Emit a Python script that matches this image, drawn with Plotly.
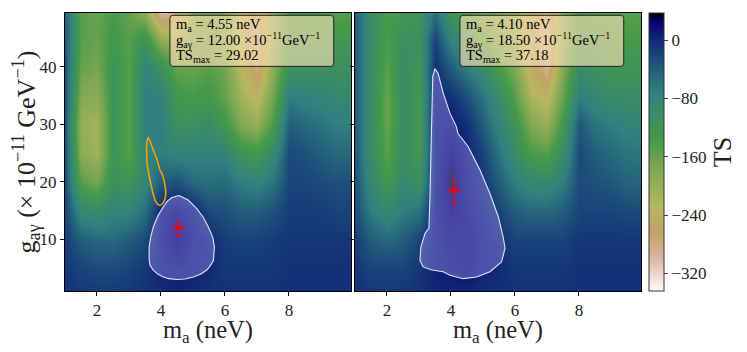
import plotly.graph_objects as go

# grille : m_a (neV) et g_ag (1e-11 GeV^-1)
m_grid = [1.0, 1.5, 2.0, 2.5, 3.0, 3.5, 4.0, 4.5, 5.0, 5.5,
          6.0, 6.5, 7.0, 7.5, 8.0, 8.5, 9.0, 9.5, 10.0]
g_grid = [0, 5, 10, 15, 20, 25, 30, 35, 40, 45, 50]

# TS, une liste par colonne m_a (de g=0 vers g=50)
ts_left_cols = [
    [-5, -10, -15, -20, -25, -30, -30, -30, -30, -35, -40],
    [-10, -20, -40, -90, -150, -190, -200, -180, -160, -150, -150],
    [-10, -25, -50, -100, -170, -210, -210, -190, -170, -160, -160],
    [-10, -25, -50, -80, -110, -120, -120, -120, -120, -130, -140],
    [-10, -20, -40, -80, -120, -150, -150, -150, -150, -150, -160],
    [-5, -10, -25, -55, -80, -80, -70, -70, -80, -120, -200],
    [-5, 5, 8, 3, -40, -70, -70, -80, -110, -200, -310],
    [0, 10, 29, 14, -30, -80, -110, -130, -160, -210, -280],
    [-5, 5, 8, 0, -50, -80, -110, -140, -160, -170, -180],
    [-5, 0, 0, -25, -55, -75, -100, -130, -150, -160, -170],
    [-5, -10, -15, -30, -50, -80, -130, -160, -170, -180, -180],
    [-5, -10, -20, -40, -70, -120, -180, -210, -230, -240, -230],
    [-5, -10, -20, -40, -80, -130, -200, -240, -280, -290, -270],
    [-5, -10, -15, -30, -60, -90, -140, -170, -190, -200, -190],
    [-5, -5, -10, -15, -20, -25, -40, -70, -110, -130, -140],
    [-5, -5, -10, -15, -20, -30, -50, -80, -110, -130, -140],
    [-5, -5, -10, -15, -25, -40, -60, -80, -110, -130, -140],
    [-5, -5, -10, -20, -30, -50, -70, -90, -110, -130, -150],
    [-5, -5, -10, -20, -30, -50, -70, -90, -110, -130, -150],
]
ts_right_cols = [
    [-5, -10, -15, -25, -30, -35, -40, -40, -40, -40, -40],
    [-10, -20, -40, -70, -90, -100, -100, -100, -100, -100, -100],
    [-10, -20, -50, -90, -130, -150, -160, -160, -150, -140, -140],
    [-10, -20, -40, -70, -90, -100, -100, -100, -100, -110, -130],
    [-5, -10, -20, -60, -110, -130, -130, -130, -120, -110, -120],
    [0, 5, 5, 5, 5, 5, 5, 0, -5, -20, -60],
    [0, 10, 15, 26, 37, 24, 8, -5, -40, -80, -120],
    [0, 15, 20, 12, 8, 4, -5, -30, -70, -110, -150],
    [-5, 5, 5, 0, -10, -20, -40, -60, -100, -140, -170],
    [-5, 0, -5, -20, -40, -60, -80, -100, -140, -170, -190],
    [-5, -10, -20, -40, -70, -100, -120, -150, -180, -190, -200],
    [-5, -10, -20, -50, -90, -140, -180, -220, -250, -260, -250],
    [-5, -10, -20, -50, -90, -150, -200, -240, -290, -300, -280],
    [-5, -10, -20, -40, -70, -100, -130, -160, -180, -190, -190],
    [-5, -5, -10, -20, -25, -25, -35, -70, -100, -120, -140],
    [-5, -5, -10, -20, -30, -40, -60, -90, -110, -130, -150],
    [-5, -5, -10, -20, -35, -50, -70, -100, -120, -140, -150],
    [-5, -5, -10, -25, -45, -60, -80, -100, -120, -140, -150],
    [-5, -5, -10, -25, -45, -60, -80, -100, -120, -140, -150],
]

# contours
cl_left_x = [4.56, 4.85, 5.12, 5.32, 5.48, 5.62, 5.67, 5.64, 5.55, 5.43, 5.25, 5.01, 4.75, 4.49,
             4.25, 4.07, 3.9, 3.76, 3.66, 3.63, 3.63, 3.68, 3.76, 3.9, 4.07, 4.2, 4.33, 4.56]
cl_left_y = [17.6, 16.8, 15.3, 13.8, 12.1, 10.3, 8.6, 6.3, 5.4, 4.6, 3.9, 3.4, 3.05, 2.95,
             3.1, 3.4, 3.9, 4.6, 5.4, 6.3, 8.6, 10.4, 12.1, 14.0, 15.6, 16.6, 17.2, 17.6]
orange_x = [3.60, 3.66, 3.76, 3.88, 3.97, 4.04, 4.12, 4.15, 4.12, 4.05, 3.95, 3.85, 3.78,
            3.65, 3.57, 3.55, 3.57, 3.60]
orange_y = [27.7, 27.0, 25.5, 23.8, 22.0, 21.3, 19.5, 18.2, 16.9, 16.2, 15.9, 16.4, 17.4,
            20.5, 23.0, 26.0, 27.2, 27.7]
cl_right_x = [3.50, 3.60, 3.76, 3.97, 4.17, 4.22, 4.54, 4.91, 5.22, 5.48, 5.63, 5.69, 5.58, 5.22,
              4.80, 4.38, 3.97, 3.76, 3.40, 3.13, 3.03, 3.06, 3.19, 3.31, 3.34, 3.37, 3.40, 3.43, 3.50]
cl_right_y = [39.7, 38.8, 35.4, 31.9, 29.6, 28.4, 26.1, 22.0, 17.9, 13.9, 10.4, 8.4, 6.0, 4.3,
              3.4, 3.1, 3.7, 4.3, 4.6, 5.15, 6.3, 8.6, 11.0, 11.9, 16.8, 25.5, 34.2, 38.3, 39.7]

best_m = [4.55, 4.10]
best_g = [12.00, 18.50]
ts_max = [29.02, 37.18]
err_m = [0.14, 0.15]
err_g_up = [1.0, 1.6]
err_g_down = [1.5, 2.3]

# gist_earth_r
cscale = [
    [0.0, "rgb(253,251,251)"], [0.1059, "rgb(223,188,170)"], [0.1333, "rgb(215,178,152)"],
    [0.2118, "rgb(193,163,103)"], [0.302, "rgb(183,183,94)"], [0.451, "rgb(120,166,82)"],
    [0.5412, "rgb(69,154,73)"], [0.63, "rgb(59,141,100)"], [0.7176, "rgb(48,128,128)"],
    [0.7882, "rgb(36,98,124)"], [0.8902, "rgb(19,48,120)"], [0.9725, "rgb(5,0,110)"],
    [1.0, "rgb(0,0,0)"],
]

FONT = "Liberation Serif"
W, H = 731, 336   # la page ajoute 8 px de marge autour

fig = go.Figure()

# boite de texte (coins arrondis), en unites des axes
bx0, bx1, by0, by1 = 4.28, 9.40, 40.1, 49.0
rx, ry = 0.1, 0.55
box_path = ("M %g,%g L %g,%g Q %g,%g %g,%g L %g,%g Q %g,%g %g,%g L %g,%g Q %g,%g %g,%g "
            "L %g,%g Q %g,%g %g,%g Z" % (
                bx0 + rx, by0, bx1 - rx, by0, bx1, by0, bx1, by0 + ry,
                bx1, by1 - ry, bx1, by1, bx1 - rx, by1,
                bx0 + rx, by1, bx0, by1, bx0, by1 - ry,
                bx0, by0 + ry, bx0, by0, bx0 + rx, by0))
line_y = [47.3, 44.7, 41.95]

xdom = [[57 / W, 343 / W], [347 / W, 633 / W]]
ydom = [53 / H, 331 / H]

panels = [
    (ts_left_cols, cl_left_x, cl_left_y, "x", "y"),
    (ts_right_cols, cl_right_x, cl_right_y, "x2", "y2"),
]
for i, (cols, cx, cy, xa, ya) in enumerate(panels):
    z = [list(r) for r in zip(*cols)]
    fig.add_trace(go.Heatmap(x=m_grid, y=g_grid, z=z, coloraxis="coloraxis",
                             zsmooth="best", xaxis=xa, yaxis=ya))
    fig.add_trace(go.Scatter(x=cx, y=cy, mode="lines", fill="toself",
                             fillcolor="rgba(160,150,240,0.42)",
                             line=dict(color="rgba(235,235,255,0.95)", width=1.1),
                             xaxis=xa, yaxis=ya, showlegend=False))
    if i == 0:
        fig.add_trace(go.Scatter(x=orange_x, y=orange_y, mode="lines",
                                 line=dict(color="#f5a000", width=1.6, shape="spline"),
                                 xaxis=xa, yaxis=ya, showlegend=False))
    fig.add_trace(go.Scatter(
        x=[best_m[i]], y=[best_g[i]], mode="markers",
        marker=dict(symbol="circle-open", size=4, color="red", line=dict(width=1.2)),
        error_x=dict(type="data", array=[err_m[i]], color="red", thickness=1.3, width=2.5),
        error_y=dict(type="data", array=[err_g_up[i]], arrayminus=[err_g_down[i]],
                     color="red", thickness=1.3, width=2.5),
        xaxis=xa, yaxis=ya, showlegend=False))

    fig.add_shape(type="path", path=box_path, xref=xa, yref=ya,
                  fillcolor="rgba(245,222,179,0.65)", line=dict(color="#222", width=1))
    lines = ["m<sub>a</sub> = %.2f neV" % best_m[i],
             "g<sub>aγ</sub> = %.2f ×10<sup>−11</sup>GeV<sup>−1</sup>" % best_g[i],
             "TS<sub>max</sub> = %.2f" % ts_max[i]]
    for t, ly in zip(lines, line_y):
        fig.add_annotation(x=4.42, y=ly, xref=xa, yref=ya, xanchor="left", yanchor="middle",
                           text=t, showarrow=False,
                           font=dict(family=FONT, size=14.5, color="black"))

    # titre de l'axe x
    fig.add_annotation(x=(xdom[i][0] + xdom[i][1]) / 2, y=13 / H, xref="paper", yref="paper",
                       xanchor="center", yanchor="middle", showarrow=False,
                       text="m<sub>a</sub> (neV)",
                       font=dict(family=FONT, size=24.5, color="#222"))

ax = dict(showline=True, mirror=True, linecolor="black", linewidth=1, ticks="outside",
          ticklen=4, tickcolor="black", showgrid=False, zeroline=False,
          tickfont=dict(family=FONT, size=17, color="#222"))

fig.update_layout(
    width=W, height=H, margin=dict(l=0, r=0, t=0, b=0),
    paper_bgcolor="white", plot_bgcolor="white", template="none", showlegend=False,
    font=dict(family=FONT),
    xaxis=dict(ax, domain=xdom[0], range=[1.0, 9.94], tickvals=[2, 4, 6, 8], anchor="y"),
    yaxis=dict(ax, domain=ydom, range=[0.95, 49.4], tickvals=[10, 20, 30, 40], anchor="x",
               title=dict(text="g<sub>aγ</sub> (× 10<sup>−11</sup> GeV<sup>−1</sup>)",
                          font=dict(family=FONT, size=26, color="#222"), standoff=4)),
    xaxis2=dict(ax, domain=xdom[1], range=[1.0, 9.94], tickvals=[2, 4, 6, 8], anchor="y2"),
    yaxis2=dict(ax, domain=ydom, range=[0.95, 49.4], tickvals=[10, 20, 30, 40], anchor="x2",
                showticklabels=False),
    coloraxis=dict(
        colorscale=cscale, cmin=-344, cmax=37.18,
        colorbar=dict(x=641 / W, xanchor="left", y=53 / H, yanchor="bottom",
                      len=278 / H, lenmode="fraction", thickness=15, xpad=0, ypad=0,
                      outlinecolor="#333", outlinewidth=1, ticks="outside", ticklen=4,
                      tickvals=[0, -80, -160, -240, -320],
                      ticktext=["0", "−80", "−160", "−240", "−320"],
                      tickfont=dict(family=FONT, size=17, color="#222"),
                      title=dict(text="TS", side="right",
                                 font=dict(family=FONT, size=26, color="#222"))),
    ),
)

fig.write_html("out.html")
